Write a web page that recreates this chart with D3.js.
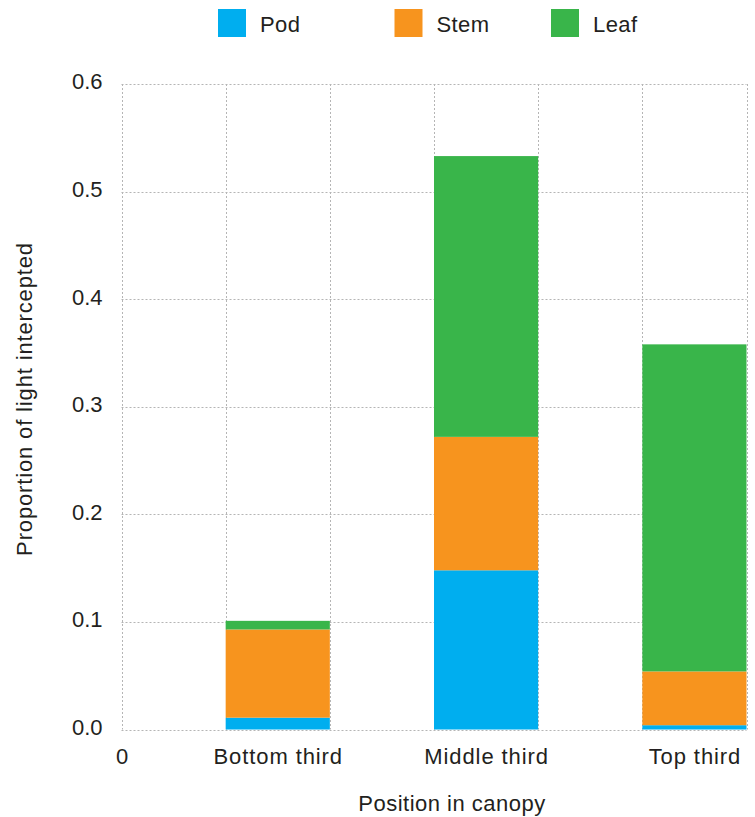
<!DOCTYPE html>
<html>
<head>
<meta charset="utf-8">
<script src="https://cdn.jsdelivr.net/npm/d3@7/dist/d3.min.js"></script>
<style>
  html, body { margin: 0; padding: 0; background: #fff; }
  svg { display: block; font-family: "Liberation Sans", Arial, Helvetica, sans-serif; }
  text { fill: #231f20; }
</style>
</head>
<body>
<svg id="chart" width="755" height="817"></svg>
<script>
// ---- data ----
const categories = ["Bottom third", "Middle third", "Top third"];
const seriesNames = ["Pod", "Stem", "Leaf"];
const podValues  = [0.011, 0.148, 0.004];
const stemValues = [0.082, 0.124, 0.050];
const leafValues = [0.008, 0.261, 0.304];
const yTicks = [0, 0.1, 0.2, 0.3, 0.4, 0.5, 0.6];
const xZeroLabel = "0";
const xTitle = "Position in canopy";
const yTitle = "Proportion of light intercepted";
const colors = ["#00AEEF", "#F7941E", "#39B54A"];

(function () {
// ---- build table ----
const table = categories.map((c, i) => ({
  category: c, Pod: podValues[i], Stem: stemValues[i], Leaf: leafValues[i]
}));
const stacked = d3.stack().keys(seriesNames)(table);

const svg = d3.select("#chart");
const mLeft = 121.5, mRight = 746.5, mTop = 84, mBottom = 729.5;

// x: a linear position axis; category i occupies [2i+1, 2i+2]
const x = d3.scaleLinear().domain([0, categories.length * 2]).range([mLeft, mRight]);
const y = d3.scaleLinear().domain([0, 0.6]).range([mBottom, mTop]);

// ---- gridlines ----
const grid = svg.append("g").attr("stroke", "#b5b5b5").attr("stroke-width", 1)
  .attr("stroke-dasharray", "2,2").attr("fill", "none");
d3.range(0, categories.length * 2 + 1).forEach(v => {
  const px = Math.round(x(v)) + 0.5;
  grid.append("line").attr("x1", px).attr("x2", px).attr("y1", y(0.6)).attr("y2", y(0));
});
yTicks.forEach(t => {
  const py = Math.round(y(t)) + 0.5;
  grid.append("line").attr("x1", x(0)).attr("x2", x(categories.length * 2)).attr("y1", py).attr("y2", py);
});

// ---- bars ----
svg.append("g").selectAll("g").data(stacked).join("g")
  .attr("fill", (d, i) => colors[i])
  .selectAll("rect").data(d => d).join("rect")
  .attr("x", (d, i) => x(2 * i + 1))
  .attr("width", (d, i) => x(2 * i + 2) - x(2 * i + 1))
  .attr("y", d => y(d[1]))
  .attr("height", d => y(d[0]) - y(d[1]));

// ---- y axis labels ----
const yAxis = d3.axisLeft(y).tickValues(yTicks).tickFormat(d3.format(".1f")).tickSize(0).tickPadding(19);
const yg = svg.append("g").attr("transform", `translate(${mLeft},0)`).call(yAxis);
yg.select(".domain").remove();
yg.selectAll("text").attr("font-size", 22).attr("font-family", null).attr("fill", "#231f20").attr("dy", "0.22em");

// ---- x axis labels ----
const xTickVals = [0].concat(categories.map((c, i) => 2 * i + 1.5));
const xAxis = d3.axisBottom(x).tickValues(xTickVals)
  .tickFormat((d, i) => i === 0 ? xZeroLabel : categories[i - 1]).tickSize(0).tickPadding(0);
const xg = svg.append("g").attr("transform", `translate(0,${mBottom})`).call(xAxis);
xg.select(".domain").remove();
xg.selectAll("text").attr("font-size", 22).attr("font-family", null).attr("fill", "#231f20")
  .attr("dy", null).attr("y", 34).attr("letter-spacing", (d, i) => i === 0 ? 0 : 0.9);

// ---- axis titles ----
svg.append("text").attr("x", 452).attr("y", 811).attr("text-anchor", "middle")
  .attr("font-size", 22).attr("letter-spacing", 0.5).text(xTitle);
svg.append("text").attr("transform", "translate(32,399) rotate(-90)").attr("text-anchor", "middle")
  .attr("font-size", 22).attr("letter-spacing", 0.85).text(yTitle);

// ---- legend ----
const legendX = [218, 394.5, 551];
const lg = svg.append("g").selectAll("g").data(seriesNames).join("g")
  .attr("transform", (d, i) => `translate(${legendX[i]},9)`);
lg.append("rect").attr("width", 28).attr("height", 28).attr("fill", (d, i) => colors[i]);
lg.append("text").attr("x", 42).attr("y", 23).attr("font-size", 22).attr("letter-spacing", 0.4).text(d => d);
})();
</script>
</body>
</html>
